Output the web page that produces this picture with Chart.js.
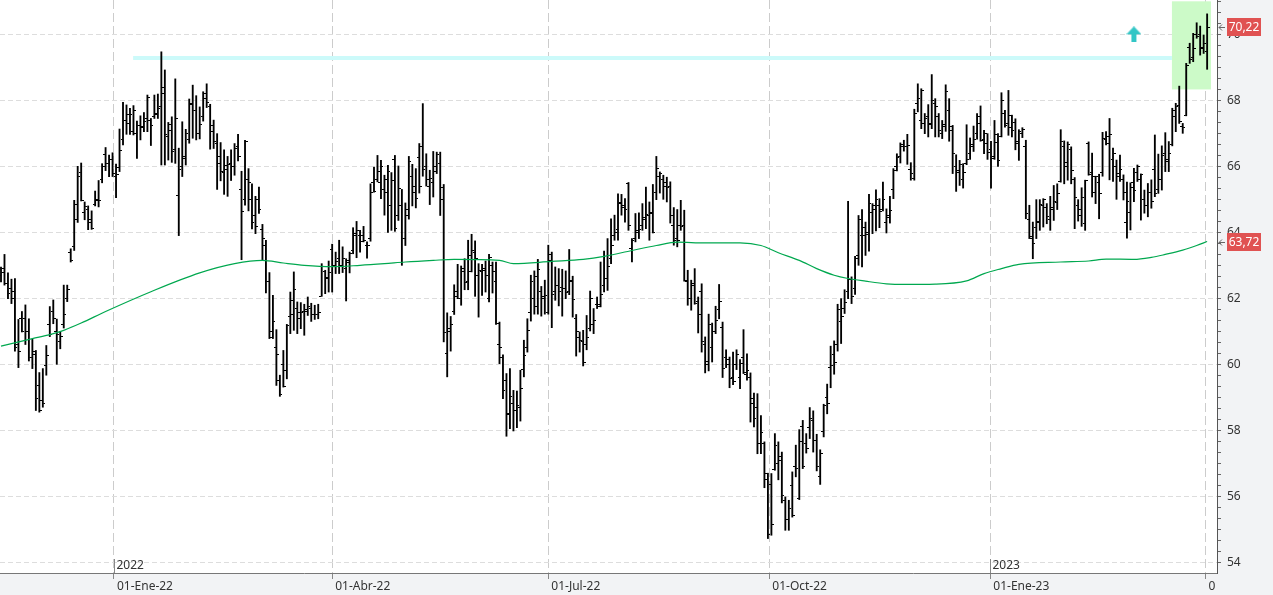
<!DOCTYPE html>
<html>
<head>
<meta charset="utf-8">
<script src="https://cdn.jsdelivr.net/npm/chart.js@4.4.0/dist/chart.umd.min.js"></script>
<style>
  html, body { margin: 0; padding: 0; background: #fff; }
</style>
</head>
<body>
<canvas id="js-chart" width="1273" height="595"></canvas>
<script>
// barras diarias, de mediados de nov-21 a finales de mar-23 (indice = sesion)
const highs = [
  62.95,63.33,62.77,62.58,62.60,61.36,61.60,61.80,61.38,60.76,60.42,59.75,59.87,60.57,61.75,61.95,61.37,61.00,62.40,62.40,63.50,64.97,66.00,66.10,64.92,64.80,64.65,65.25,65.57,66.08,
  66.57,66.34,66.41,66.07,67.13,67.94,67.86,67.76,67.84,67.37,67.53,67.63,68.16,67.45,68.16,68.19,69.47,68.92,67.33,67.50,68.65,66.55,67.35,67.12,68.04,68.46,68.14,67.80,68.26,
  68.50,67.88,67.40,66.99,66.72,66.50,66.30,66.50,66.69,66.97,65.85,66.79,65.93,65.47,65.09,65.37,64.24,63.76,62.78,62.09,61.05,59.67,60.42,61.21,62.19,62.80,61.89,61.87,61.82,
  62.04,61.85,61.79,61.82,63.05,62.85,63.13,63.64,63.40,63.76,63.56,63.20,63.40,64.14,64.33,64.06,64.18,63.71,65.47,65.98,66.33,66.18,65.73,66.03,65.81,66.33,66.01,
  65.30,64.89,66.30,66.06,65.93,66.69,67.90,66.38,65.88,66.45,66.43,66.43,65.45,61.56,61.45,62.41,63.03,62.98,63.20,63.76,63.94,63.74,63.05,63.03,63.13,63.33,63.10,63.10,
  61.28,60.29,59.72,59.87,59.21,59.19,59.82,60.73,61.38,62.70,62.83,63.18,62.36,62.55,63.61,63.40,62.95,62.90,62.88,62.83,63.48,62.67,61.51,60.98,61.03,61.48,62.22,61.69,62.04,
  63.10,63.43,63.81,64.41,64.52,65.17,65.15,65.02,65.51,63.81,64.57,64.59,64.87,65.37,64.92,65.45,66.30,65.83,65.73,65.67,65.53,64.75,64.69,64.97,64.67,62.85,62.55,62.90,62.04,
  62.44,60.83,61.52,61.25,61.76,62.42,61.28,60.44,60.22,60.37,60.44,60.14,61.05,60.32,59.74,59.13,59.11,58.45,57.65,56.70,56.69,57.90,57.65,57.34,55.98,55.88,56.74,57.55,58.02,58.30,
  57.90,58.69,58.59,57.88,57.41,58.79,59.40,60.55,60.71,61.82,61.99,62.26,64.94,62.65,63.27,64.51,64.69,64.31,65.15,64.87,65.29,65.02,65.52,64.71,65.09,65.93,66.38,66.71,66.79,
  66.97,66.11,67.73,68.50,68.35,67.60,67.87,68.78,68.05,67.60,67.39,68.47,68.05,67.24,66.35,66.18,66.08,67.26,66.86,67.22,67.60,67.83,67.09,66.99,66.76,67.39,66.99,68.23,
  67.70,68.30,67.55,67.44,67.11,67.17,66.79,64.82,64.31,64.99,64.99,65.02,64.87,65.09,65.42,65.47,67.11,66.77,66.74,66.59,65.66,64.99,65.35,65.58,66.74,66.40,65.70,65.76,67.03,
  67.05,67.45,66.55,66.19,66.34,65.74,65.52,65.50,65.94,66.04,65.77,65.28,65.48,65.59,66.95,66.37,66.62,67.02,66.75,67.76,67.91,68.43,67.30,69.12,69.73,70.03,70.35,70.25,69.98,70.62
];
const lows = [
  62.50,62.40,61.99,61.84,60.40,59.90,60.98,60.60,60.10,59.87,58.60,58.55,58.70,59.67,60.84,61.23,60.00,60.47,61.10,61.90,63.10,63.45,64.30,64.95,64.38,64.08,64.09,64.80,64.77,65.50,
  65.87,65.69,65.69,65.05,65.84,66.65,66.97,66.97,66.95,66.24,66.80,67.05,67.05,66.63,67.45,67.45,66.04,66.04,66.19,66.12,66.09,63.90,65.69,66.04,66.70,66.85,66.80,66.83,67.37,
  67.78,66.52,66.54,65.30,65.56,65.15,65.09,65.57,65.73,66.16,63.17,64.82,64.65,64.10,63.96,64.57,63.17,62.16,60.78,60.78,59.36,59.03,59.31,59.56,60.93,61.03,60.93,61.08,60.88,
  61.48,61.30,61.36,61.38,62.06,62.14,62.19,62.19,62.75,62.75,62.78,61.92,62.77,63.35,63.23,63.40,63.71,63.22,63.73,65.22,65.53,65.02,64.52,64.00,64.06,64.03,64.36,
  63.00,63.60,64.40,64.80,64.74,65.19,65.70,65.40,64.84,65.07,65.78,64.51,60.68,59.62,60.40,61.51,61.99,61.79,62.26,62.26,62.80,62.06,61.43,62.09,62.19,61.89,62.16,61.21,
  60.02,58.96,57.82,58.05,57.98,58.08,58.28,59.62,60.37,61.31,61.52,61.52,61.46,61.52,61.52,61.11,61.94,61.77,61.46,61.99,62.11,61.43,60.25,60.37,59.95,60.44,61.01,60.93,61.69,
  61.74,62.19,62.24,63.05,63.76,63.76,64.52,64.31,64.06,63.10,63.71,63.81,64.06,64.11,63.76,63.98,64.99,65.19,65.00,64.92,64.28,63.61,63.56,64.06,62.52,61.79,61.64,61.82,60.95,
  60.37,59.74,59.80,60.07,60.93,61.38,59.60,59.90,59.29,59.38,59.84,59.26,59.72,59.52,58.25,58.10,57.29,57.29,56.26,54.72,54.82,56.79,56.50,55.80,54.97,54.97,55.37,56.59,55.90,56.84,
  57.31,57.75,57.34,56.77,56.36,57.80,58.50,59.29,59.70,60.40,60.63,61.54,61.99,61.84,62.12,63.00,62.95,63.30,63.43,63.96,64.04,64.14,64.65,63.98,64.28,65.02,65.86,66.10,66.46,
  66.06,65.58,65.58,67.65,67.14,66.99,66.89,67.14,66.89,66.89,66.84,67.06,66.76,65.78,65.24,65.42,65.34,66.05,66.21,66.45,66.82,66.76,66.38,66.21,65.34,66.21,66.00,66.89,
  67.19,66.94,66.89,66.50,66.18,66.87,64.41,63.81,63.20,63.81,64.06,64.16,64.26,64.06,64.36,64.69,65.52,65.47,65.58,65.47,64.11,64.34,64.18,64.06,65.73,65.07,64.87,64.41,65.70,
  66.65,65.59,65.54,65.00,65.54,64.98,63.82,64.07,64.93,65.54,64.37,64.58,64.47,64.73,65.08,65.18,65.28,65.84,65.84,66.62,67.05,67.30,67.00,67.53,69.12,69.17,69.88,69.37,69.42,68.94
];
const opens = [
  62.70,62.90,62.45,62.30,62.20,60.60,61.40,61.40,61.00,60.20,60.30,59.35,58.90,59.97,61.20,61.60,61.00,60.70,61.20,62.00,63.40,63.57,64.40,65.80,64.60,64.70,64.40,64.85,65.00,65.60,
  66.35,66.10,66.20,65.70,65.96,66.80,67.40,67.30,67.05,67.00,67.25,67.20,67.45,67.40,67.50,67.60,67.80,68.40,66.90,67.10,66.50,65.13,66.00,66.30,66.80,67.90,67.70,67.00,67.50,
  68.20,67.80,67.04,66.70,66.30,65.80,65.90,66.10,66.00,66.60,65.29,65.00,65.60,64.98,64.50,64.98,64.10,63.60,62.50,61.00,60.50,59.50,60.00,59.80,61.45,61.50,61.70,61.40,61.60,
  61.60,61.70,61.50,61.50,62.07,62.80,62.60,63.48,63.00,63.20,63.00,62.90,63.10,63.45,63.90,63.90,63.90,63.60,63.80,65.50,65.60,65.50,65.30,65.20,64.80,66.20,64.50,
  64.80,63.80,64.50,65.70,65.40,66.26,66.60,66.00,65.40,65.50,66.00,66.10,65.37,60.32,61.00,61.60,62.20,62.00,62.90,62.50,63.30,63.40,62.70,62.80,62.90,62.00,63.00,62.50,
  60.60,60.20,59.50,58.50,58.80,58.60,58.70,59.84,60.50,61.57,62.00,61.75,62.20,62.00,61.56,63.15,62.20,62.40,62.34,62.30,62.20,62.50,61.40,60.80,60.70,60.60,61.10,61.20,61.80,
  61.80,62.40,62.60,63.20,63.90,64.08,64.90,64.80,65.49,63.50,63.80,64.00,64.20,64.40,64.50,64.60,65.20,65.70,65.60,65.40,65.40,64.20,63.80,64.20,64.20,62.50,62.00,62.40,61.90,
  62.20,60.60,60.10,60.50,61.00,61.65,61.12,60.22,60.00,59.60,60.00,59.60,60.20,59.70,59.60,58.80,58.70,57.60,57.60,56.50,56.37,56.80,57.00,57.10,55.88,55.30,56.32,56.90,55.93,58.12,
  57.60,58.10,58.30,57.70,56.60,57.95,59.00,59.90,60.30,60.60,61.30,61.70,62.20,62.57,62.30,63.30,63.90,63.90,64.00,64.60,64.70,64.80,64.70,64.30,64.50,65.30,66.00,66.30,66.60,
  66.60,65.90,65.63,67.90,67.40,67.30,67.50,67.30,67.90,67.50,67.00,67.20,67.70,67.10,66.00,65.80,65.60,66.10,66.40,66.60,67.00,67.50,66.80,66.70,66.50,66.30,66.97,66.90,
  67.60,67.30,67.55,67.34,66.70,67.00,66.60,64.40,63.80,64.14,64.30,64.80,64.75,64.40,64.70,64.90,65.55,66.60,66.00,66.50,65.60,64.80,64.50,64.26,66.70,65.80,65.20,65.50,65.80,
  66.80,66.70,66.20,66.00,65.70,65.60,64.30,64.60,65.50,65.80,65.60,65.00,64.80,65.20,65.90,65.30,65.60,66.40,66.20,66.65,67.50,67.83,67.20,67.55,69.60,69.30,70.00,70.00,69.60,69.47
];
const closes = [
  62.78,62.45,62.15,62.00,60.50,60.40,61.00,61.00,60.20,60.40,58.96,58.60,58.80,60.27,60.90,61.40,60.90,60.85,61.50,62.27,63.15,64.85,65.68,64.97,64.77,64.30,64.13,64.95,64.95,66.00,
  66.10,66.20,65.77,65.76,66.47,67.38,67.56,67.56,67.68,67.25,67.17,67.35,68.10,67.25,67.58,67.76,68.20,66.95,67.27,66.46,67.45,65.90,66.24,66.98,67.86,67.70,67.00,67.27,68.04,
  67.92,67.24,66.74,66.10,65.85,66.02,66.06,66.00,66.54,66.30,64.62,66.76,65.50,64.30,64.19,64.69,63.80,62.50,60.80,61.31,60.30,59.10,59.34,61.18,61.94,62.26,61.57,61.56,61.66,
  61.74,61.50,61.52,61.56,62.95,62.63,62.78,63.00,63.13,62.98,63.22,63.15,63.37,63.96,64.06,63.71,63.74,63.59,65.20,65.24,65.83,65.98,65.60,65.85,65.58,64.13,65.32,
  63.80,64.69,66.16,65.22,65.02,65.40,65.90,65.60,65.63,65.83,66.36,65.00,60.95,61.10,61.20,62.06,62.00,62.82,62.47,62.80,63.45,63.20,62.85,62.85,62.70,63.23,62.80,61.23,
  60.50,59.21,58.48,59.03,58.60,58.74,59.26,60.27,61.03,62.50,62.65,62.88,62.04,62.09,63.33,62.12,62.39,62.21,62.30,62.19,62.55,61.96,61.00,60.73,60.07,60.81,62.00,61.33,61.74,
  62.12,62.60,62.95,63.60,64.00,64.87,64.75,64.69,64.21,63.76,64.04,64.08,64.46,64.55,64.57,64.00,65.93,65.78,65.52,65.37,64.52,63.76,63.74,64.18,62.55,61.99,62.44,61.84,61.51,
  60.68,59.99,61.20,60.98,61.33,61.89,59.87,60.15,59.57,59.48,60.29,60.02,59.74,59.82,58.96,58.37,57.60,57.92,56.69,54.85,55.15,57.55,57.22,56.03,55.29,55.63,55.42,56.84,57.67,56.90,
  57.44,58.35,57.70,56.90,57.31,58.76,58.80,59.95,60.04,61.66,61.45,61.86,62.57,62.04,63.20,64.38,64.16,63.93,64.87,64.80,64.99,64.62,64.99,64.46,64.67,65.86,66.28,66.67,66.59,
  66.64,65.78,67.60,68.07,68.30,67.44,67.26,68.00,67.80,67.09,67.26,68.27,67.22,66.38,65.88,66.05,65.81,66.21,66.66,66.82,67.29,66.79,66.99,66.41,66.23,66.72,66.18,67.99,
  67.24,67.19,67.09,66.74,67.04,67.11,64.57,63.86,63.66,64.34,64.85,64.99,64.48,64.75,64.92,65.19,66.74,66.13,66.67,65.88,65.05,64.69,65.05,65.56,65.76,65.70,65.68,65.17,66.84,
  66.90,66.95,66.39,65.79,65.91,65.20,64.93,65.35,65.28,65.99,65.74,64.80,65.20,64.93,65.18,65.59,66.34,66.14,66.39,67.70,67.81,67.35,67.18,69.07,69.24,69.58,69.93,69.58,69.73,70.22
];

const maIdx = [0, 9, 14, 18, 23, 30, 43, 57, 67, 75, 81, 87, 95, 103, 110, 116, 124, 130, 143, 147, 158, 167, 173, 181, 188, 194, 202, 212, 218, 223, 229, 234, 239, 243, 248, 254, 259, 268, 277, 282, 287, 292, 304, 312, 317, 325, 330, 334, 339, 343, 346];
const maValues = [60.55, 60.78, 60.90, 61.03, 61.25, 61.60, 62.20, 62.77, 63.05, 63.15, 63.07, 63.00, 62.96, 63.00, 63.05, 63.10, 63.15, 63.18, 63.15, 63.05, 63.12, 63.18, 63.27, 63.45, 63.60, 63.70, 63.68, 63.68, 63.60, 63.38, 63.15, 62.90, 62.70, 62.60, 62.52, 62.44, 62.42, 62.43, 62.53, 62.75, 62.90, 63.03, 63.10, 63.13, 63.19, 63.18, 63.24, 63.33, 63.46, 63.60, 63.72];

// eje X
const tickIdx = [32.4, 95, 157, 220.4, 283.8, 345.5];
const tickLabels = ["01-Ene-22", "01-Abr-22", "01-Jul-22", "01-Oct-22", "01-Ene-23", "01-Abr-23"];
const yearIdx = [32.4, 283.8];
const yearLabels = ["2022", "2023"];

// resistencia, zona de ruptura y senal
const bandPrice = 69.28;
const bandFrom = 37.9;
const bandTo = 335.9;
const boxFrom = 335.9;
const boxTo = 347.1;
const boxLow = 68.33;
const boxHigh = 71.0;
const arrowIdx = 325;
const arrowPrice = 70.0;

const PANEL_BG = "#f2f3f5";
const FONT = { family: "'Noto Sans', 'DejaVu Sans', sans-serif", size: 12 };

function tickImage(side) {
  const c = document.createElement("canvas");
  c.width = 5;
  c.height = 1;
  const g = c.getContext("2d");
  g.fillStyle = "#000";
  g.fillRect(side === "left" ? 0 : 3, 0, 2, 1);
  return c;
}

function arrowImage() {
  const c = document.createElement("canvas");
  c.width = 15;
  c.height = 16;
  const g = c.getContext("2d");
  g.fillStyle = "#33c6c6";
  g.beginPath();
  g.moveTo(7.5, 0);
  g.lineTo(15, 8);
  g.lineTo(0, 8);
  g.closePath();
  g.fill();
  g.fillRect(5, 8, 5, 8);
  return c;
}

const extras = {
  id: "extras",
  beforeDraw(chart) {
    const { ctx, chartArea } = chart;
    ctx.save();
    ctx.fillStyle = "#fff";
    ctx.fillRect(0, 0, chart.width, chart.height);
    ctx.fillStyle = PANEL_BG;
    ctx.fillRect(chartArea.right, 0, chart.width - chartArea.right, chart.height);
    ctx.fillRect(0, chartArea.bottom, chart.width, chart.height - chartArea.bottom);
    ctx.restore();
  },
  beforeDatasetsDraw(chart) {
    const { ctx, chartArea, scales } = chart;
    const x = scales.x, y = scales.y;
    ctx.save();
    // esquina: recorta la ultima etiqueta del eje X
    ctx.fillStyle = PANEL_BG;
    ctx.fillRect(chartArea.right - 2, chartArea.bottom + 7, chart.width, chart.height);
    // zona verde
    const x0 = x.getPixelForValue(boxFrom), x1 = x.getPixelForValue(boxTo);
    const y0 = y.getPixelForValue(boxHigh), y1 = y.getPixelForValue(boxLow);
    ctx.fillStyle = "rgb(204, 250, 200)";
    ctx.fillRect(x0, y0, x1 - x0, y1 - y0);
    // anos
    ctx.font = "12px " + FONT.family;
    ctx.fillStyle = "#333";
    ctx.textBaseline = "alphabetic";
    ctx.strokeStyle = "#888";
    ctx.lineWidth = 1;
    yearIdx.forEach((v, i) => {
      const px = Math.round(x.getPixelForValue(v)) + 0.5;
      ctx.beginPath();
      ctx.moveTo(px, chartArea.bottom - 14);
      ctx.lineTo(px, chartArea.bottom);
      ctx.stroke();
      ctx.fillText(yearLabels[i], px + 2, chartArea.bottom - 4);
    });
    ctx.restore();
  },
  afterDraw(chart) {
    const { ctx, chartArea, scales } = chart;
    const y = scales.y;
    const marks = [
      [closes[closes.length - 1], closes[closes.length - 1].toFixed(2).replace(".", ",")],
      [maValues[maValues.length - 1], maValues[maValues.length - 1].toFixed(2).replace(".", ",")]
    ];
    ctx.save();
    ctx.font = "12px " + FONT.family;
    ctx.textAlign = "center";
    ctx.textBaseline = "middle";
    marks.forEach(([v, txt]) => {
      const py = Math.round(y.getPixelForValue(v));
      ctx.fillStyle = "#e05252";
      ctx.fillRect(chartArea.right + 10, py - 9, 34, 18);
      ctx.fillStyle = "#fff";
      ctx.fillText(txt, chartArea.right + 27, py + 0.5);
      ctx.strokeStyle = "#666";
      ctx.lineWidth = 1;
      ctx.beginPath();
      ctx.moveTo(chartArea.right + 2, py + 0.5);
      ctx.lineTo(chartArea.right + 8, py + 0.5);
      ctx.moveTo(chartArea.right + 5, py - 2.5);
      ctx.lineTo(chartArea.right + 2, py + 0.5);
      ctx.lineTo(chartArea.right + 5, py + 3.5);
      ctx.stroke();
    });
    ctx.restore();
  }
};

function isMajor(v) {
  const r = Math.round(v);
  return Math.abs(v - r) < 0.01 && r % 2 === 0;
}

const context = document.getElementById("js-chart").getContext("2d");

const priceChart = new Chart(context, {
  type: "bar",
  data: {
    datasets: [
      {
        type: "line",
        label: "Resistencia",
        data: [{ x: bandFrom, y: bandPrice }, { x: bandTo, y: bandPrice }],
        borderColor: "rgb(204, 250, 250)",
        borderWidth: 4,
        borderCapStyle: "butt",
        pointRadius: 0,
        order: 10,
      },
      {
        type: "bar",
        label: "Rango",
        data: highs.map((h, i) => ({ x: i, y: [lows[i], h] })),
        backgroundColor: "#000",
        borderWidth: 0,
        barThickness: 1.2,
        order: 5,
      },
      {
        type: "line",
        label: "Apertura",
        data: opens.map((o, i) => ({ x: i, y: o })),
        showLine: false,
        pointStyle: tickImage("left"),
        pointRadius: 2,
        order: 4,
      },
      {
        type: "line",
        label: "Cierre",
        data: closes.map((c, i) => ({ x: i, y: c })),
        showLine: false,
        pointStyle: tickImage("right"),
        pointRadius: 2,
        order: 4,
      },
      {
        type: "line",
        label: "Media",
        data: maIdx.map((v, i) => ({ x: v, y: maValues[i] })),
        borderColor: "#00a84f",
        borderWidth: 1.2,
        pointRadius: 0,
        cubicInterpolationMode: "monotone",
        order: 2,
      },
      {
        type: "line",
        label: "Senal",
        data: [{ x: arrowIdx, y: arrowPrice }],
        showLine: false,
        pointStyle: arrowImage(),
        pointRadius: 2,
        order: 1,
      },
    ],
  },
  options: {
    responsive: false,
    animation: false,
    devicePixelRatio: 1,
    layout: { padding: 0, autoPadding: false },
    plugins: { legend: { display: false }, tooltip: { enabled: false } },
    scales: {
      x: {
        type: "linear",
        min: -0.287,
        max: 348.83,
        offset: false,
        afterBuildTicks: (axis) => {
          axis.ticks = tickIdx.map((v) => ({ value: v }));
        },
        afterFit: (scale) => {
          scale.height = 22;
          scale.paddingLeft = 0;
          scale.paddingRight = 0;
        },
        ticks: {
          callback: (value, index) => tickLabels[index],
          align: "start",
          autoSkip: false,
          maxRotation: 0,
          padding: 0,
          labelOffset: 3,
          color: "#333",
          font: FONT,
        },
        grid: {
          offset: false,
          color: "#cccccc",
          lineWidth: 1,
          tickLength: 6,
          tickColor: "#888",
          tickBorderDash: [],
        },
        border: { display: true, color: "#777", dash: [9, 4] },
      },
      y: {
        position: "right",
        min: 53.676,
        max: 71.04,
        afterBuildTicks: (axis) => {
          const t = [];
          for (let k = 0; k <= 51; k++) t.push({ value: 54 + k / 3 });
          axis.ticks = t;
        },
        afterFit: (scale) => {
          scale.width = 56;
          scale.paddingTop = 0;
          scale.paddingBottom = 0;
        },
        ticks: {
          callback: (value) => (isMajor(value) ? String(Math.round(value)) : ""),
          autoSkip: false,
          padding: 6,
          color: "#333",
          font: FONT,
        },
        grid: {
          color: (c) => (c.tick && isMajor(c.tick.value) ? "#dddddd" : "rgba(0,0,0,0)"),
          tickColor: "#666",
          tickLength: 4,
          tickBorderDash: [],
        },
        border: { display: true, color: "#555", dash: [5, 3] },
      },
    },
  },
  plugins: [extras],
});
</script>
</body>
</html>
